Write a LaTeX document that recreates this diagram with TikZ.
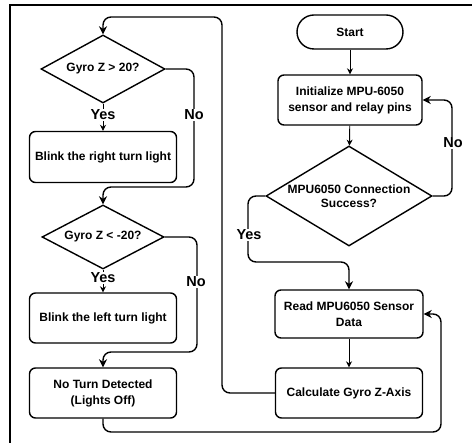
\documentclass[tikz,border=0pt]{standalone}
\usepackage{fontspec}
\setmainfont{Liberation Sans}
\usetikzlibrary{arrows.meta,shapes.geometric}
\begin{document}
\begin{tikzpicture}[x=1pt,y=-1pt,
  font=\bfseries\fontsize{12}{16}\selectfont,
  procbox/.style={draw, line width=1.4pt, rounded corners=6pt, minimum width=147pt, minimum height=50pt, align=center, inner sep=0pt},
  decbox/.style={draw, diamond, line width=1.4pt, inner sep=0pt},
  termbox/.style={draw, line width=1.4pt, rounded corners=17pt, minimum width=106pt, minimum height=34pt, inner sep=0pt},
  flowthick/.style={line width=1.4pt, rounded corners=8pt, -{Stealth[length=8pt,width=8pt,inset=2.5pt]}},
  flowthin/.style={line width=0.9pt, -{Stealth[length=6pt,width=6pt,inset=2pt]}},
  lbl/.style={fill=white, inner sep=1pt, font=\bfseries\fontsize{14.5}{16}\selectfont}]
\useasboundingbox (0,0) rectangle (472,443);
\draw[line width=2pt] (10,443) -- (10,5) -- (472,5);

% right column
\node[termbox] (start) at (350,32) {Start};
\node[procbox, minimum width=144pt] (init) at (350,100) {Initialize MPU-6050\\sensor and relay pins};
\node[decbox, minimum width=166pt, minimum height=100pt] (conn) at (349,196) {};
\node[align=center] (conntext) at (349,196) {MPU6050 Connection\\[-2pt]Success?};
\node[procbox, minimum width=148pt, minimum height=48pt] (read) at (349,314) {Read MPU6050 Sensor\\Data};
\node[procbox] (calc) at (349,393) {Calculate Gyro Z-Axis};

% left column
\node[decbox, minimum width=124pt, minimum height=68pt] (d1) at (103,69) {};
\node (d1text) at (103,69) {Gyro Z > 20?};
\node[procbox, minimum height=51pt] (b1) at (103,157) {Blink the right turn light};
\node[decbox, minimum width=122pt, minimum height=64pt] (d2) at (103,237) {};
\node (d2text) at (103,237) {Gyro Z < -20?};
\node[procbox] (b2) at (103,318) {Blink the left turn light};
\node[procbox] (b3) at (103,393) {No Turn Detected\\(Lights Off)};

% connectors right
\draw[flowthin] (start) -- (init);
\draw[flowthin] (init) -- (conn);
\draw[flowthick] (conn.east) -| (452,150) |- (init.east);
\node[lbl] (no0) at (453,143) {No};
\draw[flowthick] (conn.west) -| (248,262) -| (read.north);
\node[lbl] (yes0) at (249,235) {Yes};
\draw[flowthin] (read) -- (calc);
\draw[flowthick] (calc.west) -| (222,17) -| (d1.north);

% connectors left
\draw[flowthin] (d1) -- (b1);
\node[lbl] (yes1) at (103,115) {Yes};
\draw[flowthick] (d1.east) -| (194,187) -| (d2.north);
\node[lbl] (no1) at (194,115) {No};
\draw[flowthin] (d2) -- (b2);
\node[lbl] (yes2) at (103,278) {Yes};
\draw[flowthick] (d2.east) -| (197,352) -| (b3.north);
\node[lbl] (no2) at (196,282) {No};
\draw[flowthick] (b3.south) |- (441,432) |- (read.east);
\end{tikzpicture}
\end{document}
